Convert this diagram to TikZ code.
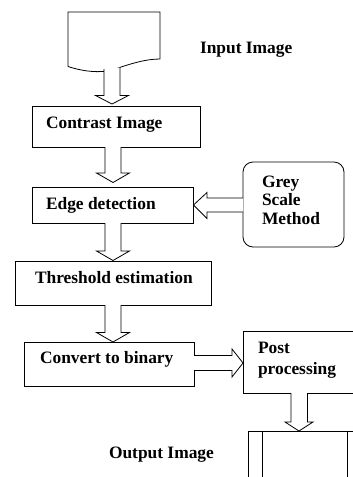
\documentclass[tikz,border=0pt]{standalone}
\usepackage{fontspec}
\setmainfont{Liberation Serif}
\begin{document}
\begin{tikzpicture}[x=1pt,y=-1pt,
  line width=0.8pt,
  box/.style={draw,rectangle,inner sep=0pt,outer sep=0pt,anchor=north west},
  txt/.style={inner sep=0pt,outer sep=0pt,anchor=base west,font=\fontsize{17.4}{20}\selectfont\bfseries},
  blockarrow/.style={draw,fill=white,line join=miter}]
\useasboundingbox (0,0) rectangle (353,477);
\clip (0,0) rectangle (353,477);
\newcommand\hdown[3]{%
  \draw[blockarrow] (#1-8,#2) -- (#1-8,#3-9.5) -- (#1-16.5,#3-9.5) -- (#1,#3) -- (#1+16.5,#3-9.5) -- (#1+8,#3-9.5) -- (#1+8,#2);}
% input document
\draw (68,66.5) -- (68,12) -- (160,12) -- (160,59)
  .. controls (145,59) and (130,64) .. (112,70)
  .. controls (100,73) and (85,72) .. (68,66.5);
\coordinate (docbottom) at (112,70);
\node[txt] (tin) at (200,53) {Input Image};
% boxes
\node[box,minimum width=168pt,minimum height=41pt] (contrast) at (32,106) {};
\node[txt] (tcontrast) at (46,128) {Contrast Image};
\node[box,minimum width=161pt,minimum height=36pt] (edge) at (32,187) {};
\node[txt] (tedge) at (46,209) {Edge detection};
\node[box,rounded corners=10pt,minimum width=101pt,minimum height=85pt] (grey) at (243,162) {};
\node[txt] (g1) at (262,187) {Grey};
\node[txt] (g2) at (262,205.5) {Scale};
\node[txt] (g3) at (262,224) {Method};
\node[box,minimum width=196pt,minimum height=44pt] (thresh) at (15,261) {};
\node[txt] (tthresh) at (35,283) {Threshold estimation};
\node[box,minimum width=170pt,minimum height=44pt] (conv) at (24,342) {};
\node[txt] (tconv) at (40,363) {Convert to binary};
\node[box,minimum width=117pt,minimum height=62pt] (post) at (243,331) {};
\node[txt] (p1) at (258,353) {Post};
\node[txt] (p2) at (258,374) {processing};
\node[box,minimum width=113pt,minimum height=70pt] (out) at (248,431) {};
\draw (262,431) -- (262,501);
\draw (347,431) -- (347,501);
\node[txt] (tout) at (109,458) {Output Image};
% hollow arrows
\draw[blockarrow] (104,69) -- (104,95.5) -- (95.5,95.5) -- (112,104) -- (128.5,95.5) -- (120,95.5) -- (120,67.5);
\hdown{113}{147}{182.5}
\hdown{113}{223}{260.5}
\hdown{113}{305}{342}
\draw[blockarrow] (243,198) -- (207,198) -- (207,192.5) -- (193.5,205) -- (207,218.5) -- (207,212) -- (243,212);
\draw[blockarrow] (194,355.5) -- (232,355.5) -- (232,349) -- (243,363) -- (232,377) -- (232,370.5) -- (194,370.5);
\draw[blockarrow] (291,393) -- (291,422) -- (285,422) -- (299,431) -- (313,422) -- (307.5,422) -- (307.5,393);
\end{tikzpicture}
\end{document}
